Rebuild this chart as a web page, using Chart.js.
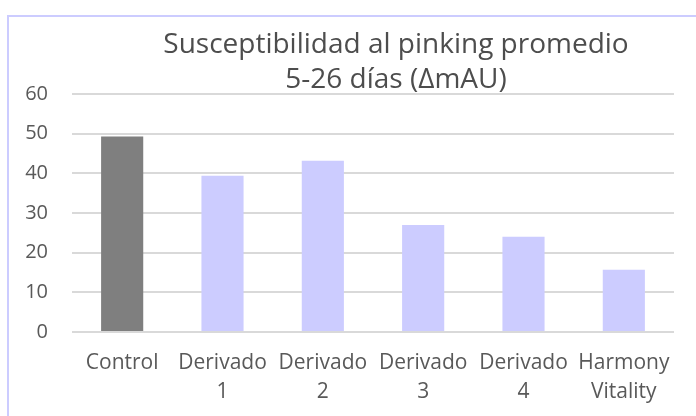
<!DOCTYPE html>
<html>
<head>
<meta charset="utf-8">
<script src="https://cdn.jsdelivr.net/npm/chart.js@4"></script>
<style>
  html, body { margin: 0; padding: 0; background: #fff; overflow: hidden; }
  #frame {
    position: absolute; left: 7px; top: 15px; width: 760px; height: 480px;
    border: 2px solid #ccccff; box-sizing: border-box;
  }
  #wrap { position: absolute; left: 0; top: 0; width: 696px; height: 416px; }
</style>
</head>
<body>
<div id="frame"></div>
<div id="wrap"><canvas id="susChart" width="696" height="416"></canvas></div>
<script>
const categories = [["Control"], ["Derivado", "1"], ["Derivado", "2"], ["Derivado", "3"], ["Derivado", "4"], ["Harmony", "Vitality"]];
const values = [49.3, 39.4, 43.2, 27.0, 24.0, 15.7];
const barColors = ["#7f7f7f", "#ccccff", "#ccccff", "#ccccff", "#ccccff", "#ccccff"];
const titleLines = ["Susceptibilidad al pinking promedio", "5-26 días (ΔmAU)"];

const font = "'Open Sans', 'DejaVu Sans', sans-serif";

// title is centred a bit right of the canvas middle, so draw it by hand
const titlePlugin = {
    id: "twoLineTitle",
    afterDraw(chart) {
        const c = chart.ctx;
        c.save();
        c.fillStyle = "#4d4d4d";
        c.font = "28px " + font;
        c.textAlign = "center";
        c.textBaseline = "middle";
        c.fillText(titleLines[0], 396, 45);
        c.fillText(titleLines[1], 396, 80);
        c.restore();
    }
};

const ctx = document.getElementById("susChart").getContext("2d");
new Chart(ctx, {
    type: "bar",
    data: {
        labels: categories,
        datasets: [{
            data: values,
            backgroundColor: barColors,
            borderWidth: 0,
            categoryPercentage: 1,
            barPercentage: 0.42
        }]
    },
    options: {
        responsive: false,
        animation: false,
        layout: { padding: { top: 94, right: 22, bottom: 0, left: 0 } },
        plugins: {
            legend: { display: false },
            tooltip: { enabled: false }
        },
        scales: {
            x: {
                grid: { display: false, drawTicks: false },
                border: { display: false },
                ticks: {
                    color: "#595959",
                    font: { family: font, size: 21, lineHeight: 1.35 },
                    padding: 17,
                    maxRotation: 0,
                    autoSkip: false
                },
                afterFit(scale) { scale.height = 84; }
            },
            y: {
                min: 0,
                max: 60,
                grid: { color: "#d9d9d9", lineWidth: 2, drawTicks: false },
                border: { display: false },
                ticks: {
                    stepSize: 10,
                    color: "#595959",
                    font: { family: font, size: 20 },
                    padding: 24
                },
                afterFit(scale) { scale.width = 72; }
            }
        }
    },
    plugins: [titlePlugin]
});
</script>
</body>
</html>
